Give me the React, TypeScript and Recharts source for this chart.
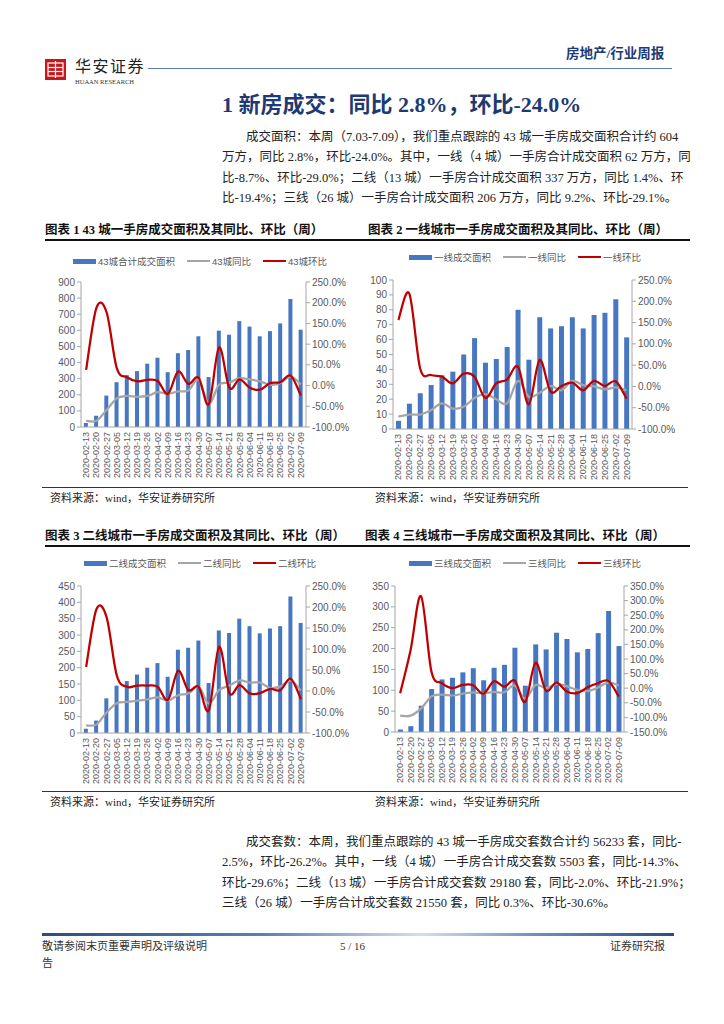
import React from "react";
import { ComposedChart, Bar, Line, XAxis, YAxis, Legend } from "recharts";

const dates = [
  "2020-02-13", "2020-02-20", "2020-02-27", "2020-03-05", "2020-03-12", "2020-03-19",
  "2020-03-26", "2020-04-02", "2020-04-09", "2020-04-16", "2020-04-23", "2020-04-30",
  "2020-05-07", "2020-05-14", "2020-05-21", "2020-05-28", "2020-06-04", "2020-06-11",
  "2020-06-18", "2020-06-25", "2020-07-02", "2020-07-09",
];

// 43城
const area43 = [25, 70, 195, 278, 322, 347, 393, 430, 340, 458, 478, 563, 310, 598, 573, 657, 623, 563, 595, 643, 795, 604];
const yoy43 = [-85, -85, -59, -31, -25, -27, -25, -16, -20, -14, -12, 14, -43, 2, 7, 18, 15, 10, 2, 6, 22, 2.8];
const mom43 = [38, 187, 177, 42, 20, 10, 14, 11, -20, 34, 4, 19, -45, 92, -5, 15, -5, -10, 6, 8, 24, -24];

// 一线
const area1 = [5.5, 17, 24, 29.5, 36, 38.5, 50, 61, 44.5, 47, 55, 80, 46.5, 75, 67.5, 69, 75, 67.5, 76.5, 78, 87, 61.5];
const yoy1 = [-71, -66, -66, -56, -40, -52, -48, -27, -18, -30, -40, 13, -24, -15, 1, -9, 13, 3, 0, -7, -2, -8.7];
const mom1 = [156, 218, 42, 27, 23, 7, 30, 23, -27, 7, 16, 46, -42, 62, -12, 1, 9, -9, 13, 1, 12, -29];

// 二线
const area2 = [13, 38, 106, 145, 159, 179, 200, 214, 172, 255, 261, 283, 153, 314, 306, 350, 327, 305, 320, 327, 418, 337];
const yoy2 = [-82, -80, -51, -29, -26, -23, -20, -15, -23, -10, -6, 10, -30, 2, 13, 25, 20, 20, 7, 11, 25, 1.4];
const mom2 = [57, 194, 176, 37, 10, 13, 13, 10, -21, 48, 2, 10, -46, 105, -5, 14, -6, -5, 5, 2, 29, -19.4];

// 三线
const area3 = [6, 14, 63, 103, 126, 130, 143, 153, 124, 154, 161, 202, 111, 210, 198, 238, 223, 191, 199, 237, 290, 206];
const yoy3 = [-94, -94, -70, -28, -22, -25, -19, -14, -18, -13, -14, 9, -36, 11, 0, 15, 7, -6, -10, 2, 20, 9.2];
const mom3 = [-17, 131, 315, 57, 17, 0, 11, 10, -19, 24, 5, 26, -47, 87, -8, 19, -11, -17, 3, 17, 25, -29.1];

const ticks900 = [0, 100, 200, 300, 400, 500, 600, 700, 800, 900];
const ticks100 = [0, 10, 20, 30, 40, 50, 60, 70, 80, 90, 100];
const ticks450 = [0, 50, 100, 150, 200, 250, 300, 350, 400, 450];
const ticks350 = [0, 50, 100, 150, 200, 250, 300, 350];
const pctTicks = [-100, -50, 0, 50, 100, 150, 200, 250];
const pctTicksWide = [-150, -100, -50, 0, 50, 100, 150, 200, 250, 300, 350];

const SERIF = '"Liberation Serif", "Noto Sans CJK SC", serif';
const SANS = '"Liberation Sans", "Noto Sans CJK SC", sans-serif';
const BLUE = "#4677C0";
const GRAY = "#A5A5A5";
const RED = "#C00000";
const AXIS = "#A6A6A6";
const TXT = "#595959";
const NAVY = "#1F3A73";

// excel 风格的平滑线 (catmull-rom)
const smooth = (context: any) => {
  let pts: number[][] = [];
  return {
    areaStart() {},
    areaEnd() {},
    lineStart() { pts = []; },
    point(x: number, y: number) { pts.push([+x, +y]); },
    lineEnd() {
      if (!pts.length) return;
      context.moveTo(pts[0][0], pts[0][1]);
      for (let i = 0; i < pts.length - 1; i++) {
        const p0 = pts[i - 1] || pts[i];
        const p1 = pts[i];
        const p2 = pts[i + 1];
        const p3 = pts[i + 2] || p2;
        context.bezierCurveTo(
          p1[0] + (p2[0] - p0[0]) / 6, p1[1] + (p2[1] - p0[1]) / 6,
          p2[0] - (p3[0] - p1[0]) / 6, p2[1] - (p3[1] - p1[1]) / 6,
          p2[0], p2[1],
        );
      }
    },
  };
};

const DateTick = (props: any) => {
  const { x, y, payload } = props;
  const ty = y + 2;
  return (
    <text x={x} y={ty} transform={`rotate(-90 ${x} ${ty})`} textAnchor="end" dominantBaseline="central"
      fontSize={9} fill={TXT} fontFamily={SANS}>
      {payload.value}
    </text>
  );
};

const LegendBox = ({ payload, order }: { payload?: any[]; order: string[] }) => {
  const items = [...(payload || [])].sort((a, b) => order.indexOf(a.value) - order.indexOf(b.value));
  return (
    <div style={{ display: "flex", justifyContent: "center", alignItems: "center", height: 16, gap: 12, fontFamily: SANS, fontSize: 9.5, color: TXT }}>
      {items.map((it) => (
        <div key={it.value} style={{ display: "flex", alignItems: "center" }}>
          <span style={{ display: "inline-block", width: 23, height: it.type === "rect" ? 5 : 2, background: it.color, marginRight: 2 }} />
          <span>{it.value}</span>
        </div>
      ))}
    </div>
  );
};

const pct = (v: number) => `${v.toFixed(1)}%`;

type PanelProps = {
  box: [number, number, number, number];
  margin: { top: number; right: number; bottom: number; left: number };
  lw: number;
  rw: number;
  xh: number;
  legendTop: number;
  area: number[];
  yoy: number[];
  mom: number[];
  names: string[];
  lt: number[];
  rt: number[];
};

const Panel = ({ box, margin, lw, rw, xh, legendTop, area, yoy, mom, names, lt, rt }: PanelProps) => {
  const data = dates.map((d, i) => ({ date: d, area: area[i], yoy: yoy[i], mom: mom[i] }));
  const tickStyle = { fontSize: 10, fill: TXT, fontFamily: SANS };
  return (
    <div style={{ position: "absolute", left: box[0], top: box[1] }}>
      <ComposedChart width={box[2]} height={box[3]} data={data} margin={margin} barCategoryGap="28%">
        <Legend verticalAlign="top" wrapperStyle={{ top: legendTop, left: 0, width: box[2] }}
          content={(p: any) => <LegendBox payload={p.payload} order={names} />} />
        <XAxis dataKey="date" interval={0} height={xh} tickLine={false} tickSize={0} tickMargin={3}
          tick={<DateTick />} axisLine={{ stroke: AXIS }} />
        <YAxis yAxisId="l" domain={[lt[0], lt[lt.length - 1]]} ticks={lt} interval={0} width={lw}
          tick={tickStyle} tickSize={4} tickMargin={2} axisLine={{ stroke: AXIS }} tickLine={{ stroke: AXIS }} />
        <YAxis yAxisId="r" orientation="right" domain={[rt[0], rt[rt.length - 1]]} ticks={rt} interval={0} width={rw}
          tick={tickStyle} tickSize={4} tickMargin={2} tickFormatter={pct} axisLine={{ stroke: AXIS }} tickLine={{ stroke: AXIS }} />
        <Bar yAxisId="l" dataKey="area" name={names[0]} fill={BLUE} isAnimationActive={false} />
        <Line yAxisId="r" dataKey="yoy" name={names[1]} stroke={GRAY} strokeWidth={2.25} dot={false} type={smooth as any} isAnimationActive={false} />
        <Line yAxisId="r" dataKey="mom" name={names[2]} stroke={RED} strokeWidth={2.25} dot={false} type={smooth as any} isAnimationActive={false} />
      </ComposedChart>
    </div>
  );
};

const abs = (left: number, top: number, extra: React.CSSProperties = {}): React.CSSProperties => ({
  position: "absolute", left, top, ...extra,
});

const bodyLine = (left: number, top: number, text: string, last = false, indent = 0) => (
  <div key={top} style={abs(left, top, {
    width: 453 - indent, paddingLeft: indent, whiteSpace: "nowrap", fontFamily: SERIF, fontSize: 12.5,
    lineHeight: "20px", color: "#222", textAlign: last ? "left" : "justify", textAlignLast: last ? "left" : "justify",
  })}>{text}</div>
);

const para1 = [
  "成交面积：本周（7.03-7.09），我们重点跟踪的 43 城一手房成交面积合计约 604",
  "万方，同比 2.8%，环比-24.0%。其中，一线（4 城）一手房合计成交面积 62 万方，同",
  "比-8.7%、环比-29.0%；二线（13 城）一手房合计成交面积 337 万方，同比 1.4%、环",
  "比-19.4%；三线（26 城）一手房合计成交面积 206 万方，同比 9.2%、环比-29.1%。",
];
const para2 = [
  "成交套数：本周，我们重点跟踪的 43 城一手房成交套数合计约 56233 套，同比-",
  "2.5%，环比-26.2%。其中，一线（4 城）一手房合计成交套数 5503 套，同比-14.3%、",
  "环比-29.6%；二线（13 城）一手房合计成交套数 29180 套，同比-2.0%、环比-21.9%；",
  "三线（26 城）一手房合计成交套数 21550 套，同比 0.3%、环比-30.6%。",
];

const figTitle = (left: number, top: number, text: string) => (
  <div style={abs(left, top, { fontFamily: SERIF, fontWeight: 700, fontSize: 12.5, color: "#111", whiteSpace: "nowrap", lineHeight: "16px" })}>{text}</div>
);
const source = (left: number, top: number) => (
  <div style={abs(left, top, { fontFamily: SERIF, fontSize: 11, color: "#222", whiteSpace: "nowrap", lineHeight: "14px" })}>资料来源：wind，华安证券研究所</div>
);
const rule = (left: number, top: number, width: number, h: number, bg: string) => (
  <div style={abs(left, top, { width, height: h, background: bg })} />
);

export default function App() {
  return (
    <div style={{ position: "absolute", left: 0, top: 0, width: 724, height: 1024, background: "#fff", overflow: "hidden" }}>
      {/* 页眉 */}
      <svg style={abs(45, 59)} width={21} height={21}>
        <rect x={0} y={0} width={21} height={21} fill="#C8161D" />
        <rect x={3} y={4} width={15} height={13} fill="none" stroke="#fff" strokeWidth={1.2} />
        <line x1={10.5} y1={2} x2={10.5} y2={19} stroke="#fff" strokeWidth={1.2} />
        <line x1={3} y1={8.5} x2={18} y2={8.5} stroke="#fff" strokeWidth={1.2} />
        <line x1={3} y1={12.5} x2={18} y2={12.5} stroke="#fff" strokeWidth={1.2} />
      </svg>
      <div style={abs(75, 58, { fontFamily: SERIF, fontSize: 16, letterSpacing: 1.5, color: "#222", lineHeight: "18px", whiteSpace: "nowrap" })}>华安证券</div>
      <div style={abs(75, 78, { fontFamily: SERIF, fontSize: 6.5, color: "#333", lineHeight: "8px", whiteSpace: "nowrap" })}>HUAAN RESEARCH</div>
      {rule(148, 68, 524, 1, "#5B7DB5")}
      <div style={abs(566, 45, { fontFamily: SERIF, fontWeight: 700, fontSize: 13.5, color: NAVY, whiteSpace: "nowrap", lineHeight: "18px" })}>房地产/行业周报</div>

      {/* 标题 */}
      <div style={abs(222, 91, { fontFamily: SERIF, fontWeight: 700, fontSize: 22, color: NAVY, whiteSpace: "nowrap", lineHeight: "28px" })}>
        1 新房成交：同比 2.8%，环比-24.0%
      </div>

      {para1.map((t, i) => bodyLine(222, 127 + i * 20.3, t, i === para1.length - 1, i === 0 ? 24 : 0))}

      {/* 图表 1 / 2 */}
      {figTitle(45, 222, "图表 1 43 城一手房成交面积及其同比、环比（周）")}
      {figTitle(368, 222, "图表 2 一线城市一手房成交面积及其同比、环比（周）")}
      {rule(45, 239, 645, 1.5, "#111")}

      <Panel box={[40, 250, 320, 232]} margin={{ top: 16, right: 4, bottom: 5, left: 4 }} lw={37} rw={50} xh={50}
        legendTop={3} area={area43} yoy={yoy43} mom={mom43} names={["43城合计成交面积", "43城同比", "43城环比"]}
        lt={ticks900} rt={pctTicks} />
      <Panel box={[360, 250, 330, 232]} margin={{ top: 14, right: 4, bottom: 5, left: 3 }} lw={30} rw={54} xh={48}
        legendTop={-1} area={area1} yoy={yoy1} mom={mom1} names={["一线成交面积", "一线同比", "一线环比"]}
        lt={ticks100} rt={pctTicks} />

      {rule(42, 487, 646, 1, "#333")}
      {source(50, 491)}
      {source(375, 491)}

      {/* 图表 3 / 4 */}
      {figTitle(45, 528, "图表 3 二线城市一手房成交面积及其同比、环比（周）")}
      {figTitle(365, 528, "图表 4 三线城市一手房成交面积及其同比、环比（周）")}
      {rule(45, 545, 645, 1.5, "#111")}

      <Panel box={[40, 548, 320, 240]} margin={{ top: 22, right: 4, bottom: 5, left: 4 }} lw={37} rw={50} xh={50}
        legendTop={7} area={area2} yoy={yoy2} mom={mom2} names={["二线成交面积", "二线同比", "二线环比"]}
        lt={ticks450} rt={pctTicks} />
      <Panel box={[360, 548, 330, 240]} margin={{ top: 22, right: 6, bottom: 6, left: 3 }} lw={32} rw={60} xh={50}
        legendTop={7} area={area3} yoy={yoy3} mom={mom3} names={["三线成交面积", "三线同比", "三线环比"]}
        lt={ticks350} rt={pctTicksWide} />

      {rule(42, 791, 646, 1, "#333")}
      {source(50, 795)}
      {source(375, 795)}

      {para2.map((t, i) => bodyLine(222, 832 + i * 20.3, t, i === para2.length - 1, i === 0 ? 24 : 0))}

      {/* 页脚 */}
      <div style={abs(42, 933, { width: 632, height: 3, background: "linear-gradient(to right, #2E4D7F 0%, #5D7FB3 35%, #D3DEEE 60%, #6F8FC0 78%, #2E4D7F 100%)" })} />
      <div style={abs(42, 939, { fontFamily: SERIF, fontSize: 11, color: "#333", whiteSpace: "nowrap", lineHeight: "14px" })}>敬请参阅末页重要声明及评级说明</div>
      <div style={abs(42, 956, { fontFamily: SERIF, fontSize: 11, color: "#333", whiteSpace: "nowrap", lineHeight: "14px" })}>告</div>
      <div style={abs(340, 939, { fontFamily: SERIF, fontSize: 11, color: "#333", whiteSpace: "nowrap", lineHeight: "14px" })}>5 / 16</div>
      <div style={abs(610, 939, { fontFamily: SERIF, fontSize: 11, color: "#333", whiteSpace: "nowrap", lineHeight: "14px" })}>证券研究报</div>
    </div>
  );
}
